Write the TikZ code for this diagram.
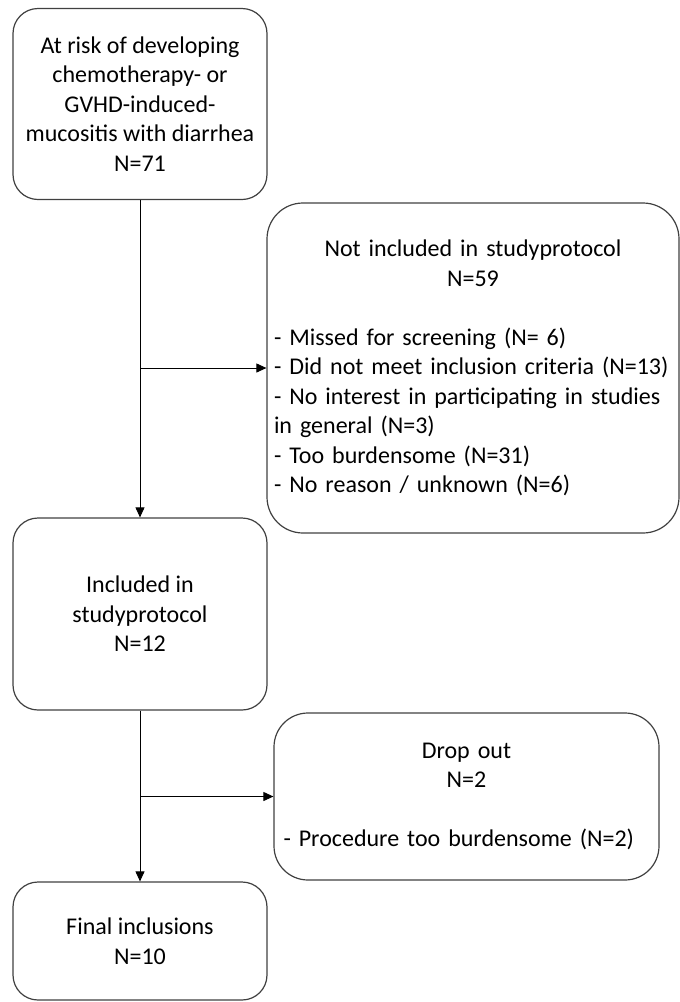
\documentclass[tikz,border=0pt]{standalone}
\usepackage{fontspec}
\setmainfont{Carlito}
\usetikzlibrary{arrows.meta}
\tikzset{
	flowbox/.style={draw=black!75, line width=1.2pt, inner sep=0pt, align=center, font=\fontsize{24}{29.5}\selectfont},
	flowarrow/.style={-{Triangle[length=10pt,width=9pt]}, line width=0.9pt}
}
\begin{document}
\begin{tikzpicture}[x=1pt, y=-1pt]
		%%%%% START %%%%%
		\useasboundingbox (0, 0) rectangle (680, 1002);
		
		\node[flowbox, rounded corners=25pt, minimum width=254pt, minimum height=191pt] (risk) at (140, 104) {At risk of developing\\chemotherapy- or\\GVHD-induced-\\mucositis with diarrhea\\N=71};
		
		\node[flowbox, rounded corners=36pt, minimum width=412pt, minimum height=330pt, text width=398pt, align=left] (notincl) at (473, 368) {{\centering Not included in studyprotocol\\N=59\\\mbox{}\par}- Missed for screening (N= 6)\\- Did not meet inclusion criteria (N=13)\\- No interest in participating in studies\\in general (N=3)\\- Too burdensome (N=31)\\- No reason / unknown (N=6)};
		
		\node[flowbox, rounded corners=25pt, minimum width=254pt, minimum height=192pt] (incl) at (140, 614) {Included in\\studyprotocol\\N=12};
		
		\node[flowbox, rounded corners=34pt, minimum width=385pt, minimum height=167pt, text width=366pt, align=left] (drop) at (466.5, 796.5) {{\centering Drop out\\N=2\\\mbox{}\par}- Procedure too burdensome (N=2)};
		
		\node[flowbox, rounded corners=25pt, minimum width=254pt, minimum height=118pt] (final) at (140, 941) {Final inclusions\\N=10};
		
		% arrows
		\coordinate (split1) at (risk.south |- notincl.west);
		\coordinate (split2) at (incl.south |- drop.west);
		\draw[flowarrow] (risk.south) -- (incl.north);
		\draw[flowarrow] (split1) -- (notincl.west);
		\draw[flowarrow] (incl.south) -- (final.north);
		\draw[flowarrow] (split2) -- (drop.west);
		
		%%%%% END %%%%%
\end{tikzpicture}
\end{document}
